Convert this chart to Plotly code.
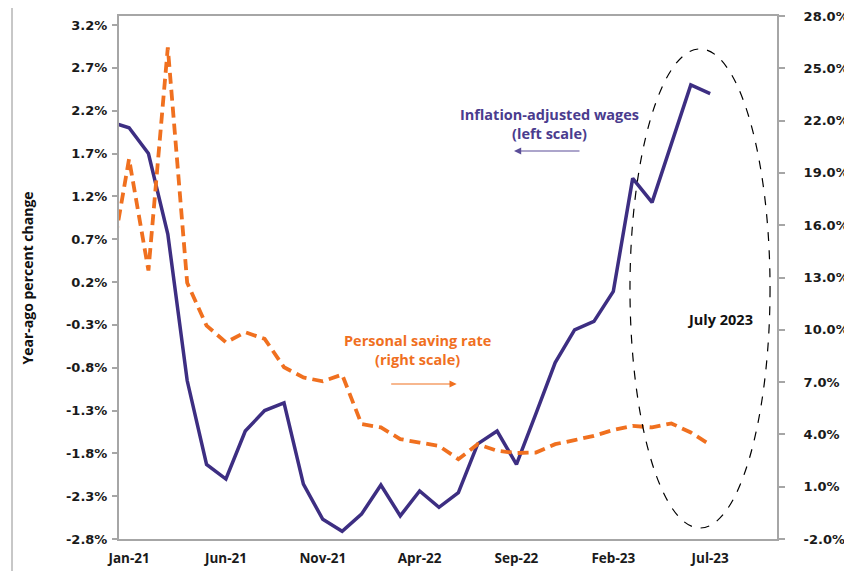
import plotly.graph_objects as go

months = ["Dec-20", "Jan-21", "Feb-21", "Mar-21", "Apr-21", "May-21", "Jun-21", "Jul-21",
          "Aug-21", "Sep-21", "Oct-21", "Nov-21", "Dec-21", "Jan-22", "Feb-22", "Mar-22",
          "Apr-22", "May-22", "Jun-22", "Jul-22", "Aug-22", "Sep-22", "Oct-22", "Nov-22",
          "Dec-22", "Jan-23", "Feb-23", "Mar-23", "Apr-23", "May-23", "Jun-23", "Jul-23"]

real_wages = [2.07, 2.00, 1.70, 0.76, -0.95, -1.93, -2.10, -1.54, -1.30, -1.21, -2.16, -2.57,
              -2.71, -2.51, -2.17, -2.53, -2.24, -2.43, -2.26, -1.69, -1.54, -1.93, -1.34, -0.74,
              -0.36, -0.26, 0.09, 1.41, 1.13, 1.82, 2.50, 2.40]

saving_rate = [13.4, 19.8, 13.4, 26.2, 12.7, 10.24, 9.28, 9.86, 9.48, 7.85, 7.27, 7.04,
               7.43, 4.59, 4.40, 3.73, 3.53, 3.34, 2.58, 3.44, 3.06, 2.93, 2.96, 3.44,
               3.67, 3.92, 4.25, 4.49, 4.40, 4.63, 4.11, 3.40]

x_ticks = ["Jan-21", "Jun-21", "Nov-21", "Apr-22", "Sep-22", "Feb-23", "Jul-23"]
left_ticks = [3.2, 2.7, 2.2, 1.7, 1.2, 0.7, 0.2, -0.3, -0.8, -1.3, -1.8, -2.3, -2.8]
right_ticks = [28, 25, 22, 19, 16, 13, 10, 7, 4, 1, -2]

PURPLE = "#3d2e82"
ORANGE = "#f0701f"
AXIS = "#a6a6a6"

fig = go.Figure()
fig.add_trace(go.Scatter(x=months, y=real_wages, mode="lines", yaxis="y",
                         line=dict(color=PURPLE, width=3.5), cliponaxis=True))
fig.add_trace(go.Scatter(x=months, y=saving_rate, mode="lines", yaxis="y2",
                         line=dict(color=ORANGE, width=3.8, dash="11px,6px"), cliponaxis=True))

tickfont = dict(family="DejaVu Sans", size=13, color="#1a1a1a", weight="bold")

# the page body adds an 8px offset, so the figure is 8px smaller and margins shifted
fig.update_layout(
    width=844, height=563,
    margin=dict(l=111, r=75, t=8, b=32, autoexpand=False),
    paper_bgcolor="white", plot_bgcolor="white",
    showlegend=False,
    xaxis=dict(type="category", categoryorder="array", categoryarray=months, automargin=False,
               range=[0.48, 34.45], tickmode="array", tickvals=x_ticks, ticktext=x_ticks,
               showgrid=False, zeroline=False, showline=True, linecolor=AXIS, linewidth=2,
               mirror=True, ticks="", ticklabelstandoff=6,
               tickfont=dict(family="Open Sans", size=13.5, color="#1a1a1a", weight="bold")),
    yaxis=dict(range=[-2.8, 3.305], tickmode="array", tickvals=left_ticks, automargin=False,
               ticktext=[f"{v:.1f}%" for v in left_ticks],
               showgrid=False, zeroline=False, showline=True, linecolor=AXIS, linewidth=2,
               mirror=True, ticks="outside", ticklen=5, tickcolor=AXIS, tickwidth=1.5,
               tickfont=tickfont, ticklabelstandoff=2),
    yaxis2=dict(range=[-2, 28], overlaying="y", side="right", tickmode="array", automargin=False,
                tickvals=right_ticks, ticktext=[f"{v:.1f}%" for v in right_ticks],
                showgrid=False, zeroline=False, showline=True, linecolor=AXIS, linewidth=2,
                ticks="outside", ticklen=6, tickcolor=AXIS, tickwidth=1.5,
                tickfont=tickfont, ticklabelstandoff=16),
)

ann_font = dict(family="Open Sans", size=14.5, weight="bold")
fig.add_annotation(xref="paper", yref="paper", x=0.6535, y=0.7935, showarrow=False,
                   xanchor="center", yanchor="middle",
                   text="Inflation-adjusted wages<br>(left scale)",
                   font=dict(color="#4a3c8e", **ann_font), align="center")
fig.add_annotation(xref="paper", yref="paper", x=0.4544, y=0.3608, showarrow=False,
                   xanchor="center", yanchor="middle",
                   text="Personal saving rate<br>(right scale)",
                   font=dict(color=ORANGE, **ann_font), align="center")
fig.add_annotation(xref="paper", yref="paper", x=0.9134, y=0.4201, showarrow=False,
                   xanchor="center", yanchor="middle",
                   text="July 2023", font=dict(color="#111111", **ann_font))
# arrows
fig.add_annotation(xref="paper", yref="paper", x=0.6003, y=0.7419, ax=67, ay=0, text="",
                   showarrow=True, arrowhead=2, arrowsize=1.2, arrowwidth=1.2, arrowcolor="#5a4d98")
fig.add_annotation(xref="paper", yref="paper", x=0.5132, y=0.2964, ax=-67, ay=0, text="",
                   showarrow=True, arrowhead=2, arrowsize=1.2, arrowwidth=1.2, arrowcolor=ORANGE)
# y-axis title
fig.add_annotation(xref="paper", yref="paper", x=-0.1383, y=0.5, showarrow=False, textangle=-90,
                   xanchor="center", yanchor="middle",
                   text="Year-ago percent change",
                   font=dict(family="Open Sans", size=14, color="#111111", weight="bold"))

# dashed ellipse around July 2023
fig.add_shape(type="circle", xref="x", yref="paper", x0=26.86, x1=34.09, y0=0.021, y1=0.937,
              line=dict(color="black", width=1.2, dash="dash"))
# left gray border line
fig.add_shape(type="line", xref="paper", yref="paper", x0=-0.1626, x1=-0.1626, y0=-0.07, y1=1.04,
              line=dict(color="#b5b5b5", width=1.5))

fig.write_html("out.html")
